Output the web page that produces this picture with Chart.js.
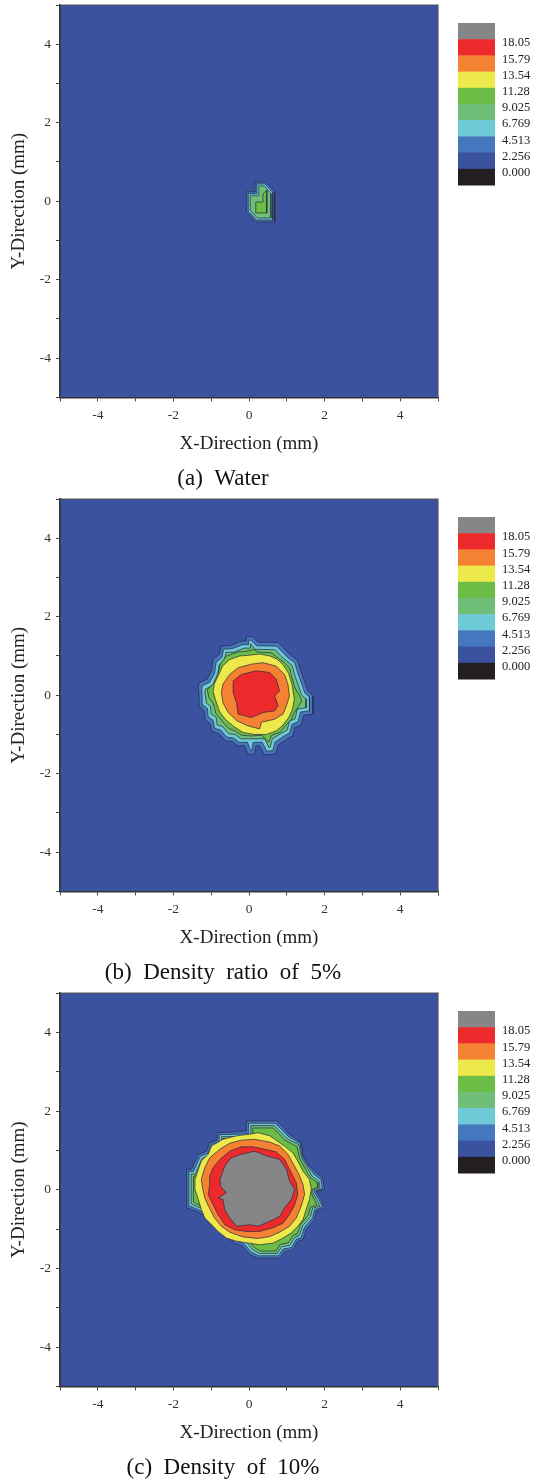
<!DOCTYPE html>
<html>
<head>
<meta charset="utf-8">
<script src="https://cdn.jsdelivr.net/npm/chart.js@4.4.1/dist/chart.umd.min.js"></script>
<style>
  body { margin: 0; background: #fff; }
  .panel { width: 536px; }
  canvas { display: block; }
</style>
</head>
<body>
<div class="panel"><canvas id="chartA" width="536" height="494"></canvas></div>
<div class="panel"><canvas id="chartB" width="536" height="494"></canvas></div>
<div class="panel"><canvas id="chartC" width="536" height="495"></canvas></div>
<script>
// colour bar labels, top to bottom
const levelLabels = ["18.05", "15.79", "13.54", "11.28", "9.025", "6.769", "4.513", "2.256", "0.000"];
// band colours from the lowest band (<0) up to the highest (>18.05)
const bandColors = ["#231F20", "#3A52A0", "#4477BD", "#6DCAD6", "#6FBF79", "#6BBD45", "#EEE94B", "#F58232", "#EC2A2B", "#868689"];
// labelled ticks on both axes (mm)
const axisTicks = [-4, -2, 0, 2, 4];

// contour outlines as [x, y] in mm, outermost (2.256) first

// (a) water
const waterLv1 = [[0.16,0.49],[0.44,0.49],[0.68,0.24],[0.68,-0.53],[0.18,-0.53],[-0.07,-0.27],[-0.07,0.24],[0.16,0.24]];
const waterLv2 = [[0.21,0.44],[0.42,0.44],[0.63,0.22],[0.63,-0.48],[0.20,-0.48],[-0.02,-0.25],[-0.02,0.19],[0.21,0.19]];
const waterLv3 = [[0.26,0.39],[0.40,0.39],[0.58,0.20],[0.58,-0.43],[0.22,-0.43],[0.03,-0.23],[0.03,0.14],[0.26,0.14]];
const waterLv4 = [[0.18,-0.02],[0.37,-0.02],[0.37,0.19],[0.47,0.28],[0.47,-0.30],[0.18,-0.30]];

// (b) density ratio 5%
const ratio5Lv1 = [[-0.07,1.49],[0.09,1.49],[0.24,1.35],[0.77,1.34],[0.97,1.15],[1.10,1.02],[1.28,0.90],[1.38,0.60],[1.48,0.32],[1.56,0.11],[1.69,-0.02],[1.69,-0.48],[1.44,-0.51],[1.38,-0.76],[1.21,-0.82],[1.16,-1.03],[0.99,-1.12],[0.77,-1.27],[0.70,-1.50],[0.41,-1.52],[0.28,-1.29],[0.18,-1.29],[0.15,-1.50],[-0.03,-1.50],[-0.11,-1.29],[-0.30,-1.29],[-0.45,-1.18],[-0.62,-1.16],[-0.80,-0.98],[-0.98,-0.92],[-1.03,-0.72],[-1.16,-0.62],[-1.18,-0.40],[-1.30,-0.30],[-1.32,-0.06],[-1.34,0.19],[-1.32,0.32],[-1.11,0.41],[-0.99,0.62],[-0.95,0.91],[-0.79,1.04],[-0.73,1.25],[-0.47,1.27],[-0.20,1.38],[-0.07,1.38]];
const ratio5Lv2 = [[-0.01,1.40],[0.05,1.40],[0.20,1.26],[0.73,1.25],[0.91,1.07],[1.04,0.95],[1.21,0.83],[1.30,0.54],[1.40,0.27],[1.48,0.05],[1.60,-0.05],[1.60,-0.40],[1.36,-0.43],[1.30,-0.68],[1.14,-0.74],[1.08,-0.96],[0.93,-1.04],[0.69,-1.19],[0.63,-1.41],[0.47,-1.43],[0.35,-1.20],[0.11,-1.20],[0.07,-1.41],[0.04,-1.41],[-0.04,-1.20],[-0.26,-1.20],[-0.41,-1.09],[-0.58,-1.07],[-0.75,-0.89],[-0.91,-0.84],[-0.95,-0.64],[-1.08,-0.55],[-1.10,-0.34],[-1.22,-0.25],[-1.24,-0.04],[-1.25,0.17],[-1.24,0.24],[-1.04,0.33],[-0.91,0.56],[-0.87,0.84],[-0.72,0.96],[-0.67,1.17],[-0.43,1.19],[-0.16,1.29],[-0.01,1.29]];
const ratio5Lv3 = [[0.04,1.31],[0.16,1.17],[0.69,1.16],[0.85,0.99],[0.99,0.88],[1.14,0.76],[1.22,0.48],[1.32,0.21],[1.40,-0.01],[1.51,-0.09],[1.51,-0.32],[1.28,-0.35],[1.22,-0.60],[1.07,-0.66],[1.01,-0.89],[0.87,-0.96],[0.62,-1.11],[0.56,-1.32],[0.53,-1.34],[0.42,-1.11],[0.02,-1.11],[-0.22,-1.11],[-0.37,-1.00],[-0.54,-0.98],[-0.70,-0.80],[-0.84,-0.76],[-0.87,-0.56],[-1.00,-0.48],[-1.02,-0.28],[-1.13,-0.20],[-1.15,-0.02],[-1.16,0.15],[-0.97,0.24],[-0.83,0.50],[-0.79,0.77],[-0.65,0.88],[-0.61,1.09],[-0.39,1.10],[-0.12,1.20],[0.04,1.20]];
const ratio5Lv4 = [[-0.60,1.00],[-0.30,1.10],[-0.05,1.12],[0.12,1.17],[0.25,1.10],[0.60,1.08],[0.78,0.94],[0.92,0.84],[1.07,0.70],[1.14,0.44],[1.22,0.18],[1.32,0.02],[1.40,-0.14],[1.30,-0.30],[1.20,-0.44],[1.12,-0.62],[0.96,-0.78],[0.82,-0.95],[0.60,-1.02],[0.52,-1.20],[0.34,-1.02],[0.05,-1.04],[-0.20,-1.02],[-0.35,-0.92],[-0.55,-0.84],[-0.73,-0.64],[-0.88,-0.46],[-0.94,-0.22],[-1.06,-0.06],[-1.10,0.14],[-0.94,0.30],[-0.82,0.56],[-0.76,0.80]];
const ratio5Lv5 = [[-0.92,0.28],[-0.80,0.53],[-0.70,0.74],[-0.51,0.91],[-0.25,1.00],[0.02,1.02],[0.28,1.05],[0.55,1.00],[0.74,0.92],[0.90,0.78],[1.05,0.55],[1.14,0.26],[1.20,-0.10],[1.15,-0.36],[1.05,-0.57],[0.90,-0.76],[0.72,-0.91],[0.46,-1.00],[0.15,-1.00],[-0.16,-0.95],[-0.40,-0.80],[-0.62,-0.62],[-0.78,-0.42],[-0.88,-0.14],[-0.95,0.10]];
const ratio5Lv6 = [[-0.69,0.28],[-0.51,0.53],[-0.29,0.70],[0.06,0.79],[0.37,0.83],[0.72,0.74],[0.94,0.53],[1.03,0.28],[1.07,-0.02],[0.99,-0.27],[0.90,-0.48],[0.68,-0.61],[0.33,-0.69],[0.28,-0.86],[-0.03,-0.78],[-0.33,-0.65],[-0.55,-0.44],[-0.69,-0.19],[-0.73,0.07]];
const ratio5Lv7 = [[-0.42,0.36],[-0.20,0.53],[0.19,0.62],[0.55,0.58],[0.72,0.41],[0.81,0.11],[0.68,-0.02],[0.77,-0.27],[0.68,-0.40],[0.37,-0.44],[0.06,-0.57],[-0.29,-0.48],[-0.33,-0.19],[-0.42,0.07]];

// (c) density 10%
const dens10Lv1 = [[-0.07,1.75],[0.72,1.75],[0.90,1.58],[1.07,1.41],[1.38,1.20],[1.43,0.86],[1.60,0.60],[1.78,0.43],[1.95,0.30],[2.00,0.01],[1.78,-0.04],[1.91,-0.25],[2.00,-0.46],[1.78,-0.55],[1.73,-0.76],[1.51,-1.02],[1.43,-1.27],[1.29,-1.31],[1.16,-1.53],[0.94,-1.57],[0.81,-1.74],[0.24,-1.74],[0.02,-1.65],[-0.16,-1.44],[-0.38,-1.36],[-0.60,-1.19],[-0.77,-0.97],[-1.04,-0.76],[-1.21,-0.63],[-1.39,-0.55],[-1.65,-0.46],[-1.65,0.52],[-1.52,0.52],[-1.34,0.90],[-1.12,0.98],[-1.04,1.20],[-0.86,1.24],[-0.82,1.45],[-0.33,1.47],[-0.07,1.49]];
const dens10Lv2 = [[-0.01,1.69],[0.69,1.69],[0.86,1.53],[1.03,1.36],[1.35,1.17],[1.41,0.84],[1.57,0.58],[1.73,0.38],[1.90,0.26],[1.94,0.03],[1.72,-0.04],[1.85,-0.25],[1.94,-0.44],[1.73,-0.51],[1.68,-0.72],[1.46,-0.97],[1.38,-1.22],[1.25,-1.26],[1.12,-1.47],[0.90,-1.51],[0.78,-1.68],[0.26,-1.68],[0.06,-1.59],[-0.12,-1.38],[-0.34,-1.30],[-0.56,-1.14],[-0.73,-0.92],[-0.99,-0.71],[-1.17,-0.58],[-1.36,-0.50],[-1.59,-0.41],[-1.59,0.46],[-1.47,0.46],[-1.29,0.85],[-1.08,0.93],[-1.00,1.15],[-0.81,1.19],[-0.77,1.40],[-0.31,1.41],[-0.01,1.43]];
const dens10Lv3 = [[0.05,1.63],[0.66,1.63],[0.82,1.48],[0.99,1.31],[1.32,1.14],[1.39,0.82],[1.54,0.56],[1.68,0.33],[1.85,0.22],[1.88,0.05],[1.66,-0.02],[1.79,-0.25],[1.88,-0.42],[1.68,-0.47],[1.63,-0.68],[1.42,-0.92],[1.33,-1.17],[1.21,-1.21],[1.08,-1.41],[0.86,-1.45],[0.75,-1.62],[0.28,-1.62],[0.10,-1.53],[-0.08,-1.32],[-0.30,-1.24],[-0.52,-1.09],[-0.69,-0.87],[-0.95,-0.66],[-1.12,-0.53],[-1.33,-0.45],[-1.53,-0.36],[-1.53,0.40],[-1.42,0.40],[-1.24,0.80],[-1.04,0.88],[-0.96,1.10],[-0.76,1.14],[-0.72,1.35],[-0.29,1.35],[0.05,1.37]];
const dens10Lv4 = [[0.10,1.57],[0.63,1.57],[0.78,1.43],[0.95,1.26],[1.27,1.09],[1.34,0.79],[1.49,0.53],[1.63,0.30],[1.80,0.18],[1.82,0.06],[1.62,-0.02],[1.73,-0.25],[1.80,-0.40],[1.62,-0.44],[1.57,-0.64],[1.37,-0.88],[1.28,-1.12],[1.17,-1.16],[1.04,-1.35],[0.82,-1.39],[0.72,-1.56],[0.30,-1.56],[0.14,-1.47],[-0.04,-1.27],[-0.26,-1.19],[-0.48,-1.05],[-0.65,-0.83],[-0.91,-0.62],[-1.08,-0.49],[-1.29,-0.41],[-1.47,-0.31],[-1.47,0.34],[-1.37,0.36],[-1.19,0.76],[-1.00,0.84],[-0.92,1.05],[-0.72,1.10],[-0.70,1.30],[-0.30,1.30],[0.10,1.32]];
const dens10Lv5 = [[-1.43,0.26],[-1.34,0.52],[-1.26,0.73],[-1.08,0.90],[-0.99,1.11],[-0.69,1.28],[-0.33,1.37],[0.02,1.41],[0.24,1.45],[0.55,1.37],[0.94,1.11],[1.16,0.94],[1.29,0.73],[1.43,0.47],[1.60,0.26],[1.65,0.01],[1.60,-0.25],[1.51,-0.51],[1.43,-0.76],[1.29,-0.93],[1.12,-1.10],[0.90,-1.23],[0.63,-1.36],[0.28,-1.40],[0.02,-1.36],[-0.33,-1.31],[-0.60,-1.23],[-0.82,-1.06],[-0.99,-0.89],[-1.17,-0.72],[-1.26,-0.51],[-1.34,-0.25],[-1.43,0.01]];
const dens10Lv6 = [[-1.26,0.26],[-1.17,0.56],[-1.04,0.81],[-0.77,1.03],[-0.51,1.18],[-0.20,1.26],[0.15,1.28],[0.55,1.21],[0.81,1.11],[1.03,0.90],[1.18,0.64],[1.32,0.39],[1.43,0.13],[1.47,-0.12],[1.38,-0.42],[1.25,-0.72],[1.07,-0.93],[0.81,-1.08],[0.55,-1.19],[0.24,-1.24],[-0.16,-1.20],[-0.51,-1.08],[-0.73,-0.93],[-0.91,-0.72],[-1.05,-0.46],[-1.17,-0.21],[-1.23,0.05]];
const dens10Lv7 = [[-1.04,0.35],[-0.95,0.56],[-0.77,0.77],[-0.51,0.98],[-0.20,1.09],[0.11,1.09],[0.41,1.03],[0.72,0.96],[0.94,0.77],[1.07,0.52],[1.25,0.18],[1.29,-0.12],[1.21,-0.38],[1.07,-0.63],[0.90,-0.85],[0.63,-0.97],[0.28,-1.06],[-0.07,-1.06],[-0.38,-1.02],[-0.64,-0.89],[-0.82,-0.63],[-0.95,-0.38],[-1.08,-0.12],[-1.04,0.13]];
const dens10Lv8 = [[-0.77,0.26],[-0.64,0.60],[-0.47,0.81],[-0.20,0.90],[0.15,0.98],[0.46,0.86],[0.81,0.77],[0.99,0.52],[1.07,0.22],[1.21,0.01],[1.12,-0.25],[0.94,-0.46],[0.81,-0.68],[0.55,-0.80],[0.24,-0.93],[0.02,-0.89],[-0.33,-0.93],[-0.51,-0.72],[-0.64,-0.51],[-0.69,-0.25],[-0.82,-0.21],[-0.60,-0.08],[-0.75,0.08]];

const serif = "'Liberation Serif', 'Times New Roman', serif";

const plotDecor = {
  id: "plotDecor",
  beforeDraw(chart) {
    const {ctx, chartArea: a} = chart;
    ctx.save();
    ctx.fillStyle = bandColors[1];
    ctx.fillRect(a.left, a.top, a.width, a.height);
    ctx.restore();
  },
  afterDraw(chart) {
    const {ctx, chartArea: a} = chart;
    ctx.save();
    // top and right frame
    ctx.strokeStyle = "#555";
    ctx.lineWidth = 1.2;
    ctx.beginPath();
    ctx.moveTo(a.left, a.top);
    ctx.lineTo(a.right, a.top);
    ctx.lineTo(a.right, a.bottom);
    ctx.stroke();
    // colour bar
    const x0 = a.right + 20, top = a.top + 18, w = 37, h = 16.2;
    const n = bandColors.length;
    for (let i = 0; i < n; i++) {
      ctx.fillStyle = bandColors[n - 1 - i];
      ctx.fillRect(x0, top + i * h, w, h + 0.5);
    }
    ctx.font = "12.5px " + serif;
    ctx.fillStyle = "#222";
    ctx.textBaseline = "middle";
    ctx.textAlign = "left";
    levelLabels.forEach((t, i) => ctx.fillText(t, x0 + 44, top + (i + 1) * h + 4));
    ctx.restore();
  }
};

function axis(title, isY) {
  return {
    type: "linear",
    min: -5,
    max: 5,
    ticks: {
      stepSize: 1,
      autoSkip: false,
      maxRotation: 0,
      padding: isY ? 5 : 6,
      color: "#333",
      font: {family: serif, size: 13.5},
      callback: v => axisTicks.includes(v) ? String(v) : ""
    },
    grid: {drawOnChartArea: false, drawTicks: true, tickLength: 4, color: "#444", tickWidth: 1},
    border: {display: true, color: "#333", width: 1.6},
    title: {display: true, text: title, color: "#222", font: {family: serif, size: 19}, padding: 0},
    afterFit: s => {
      if (isY) { s.width = 52; s.paddingTop = 0; s.paddingBottom = 0; }
      else { s.height = 58; s.paddingLeft = 0; s.paddingRight = 0; }
    }
  };
}

function makeChart(id, contours, caption) {
  const datasets = contours.map((pts, i) => ({
    data: pts.concat([pts[0]]).map(p => ({x: p[0], y: p[1]})),
    showLine: true,
    fill: "shape",
    backgroundColor: bandColors[i + 2],
    borderColor: "rgba(40,42,62,0.9)",
    borderWidth: 0.8,
    pointRadius: 0,
    tension: 0,
    order: contours.length - i
  }));
  new Chart(document.getElementById(id), {
    type: "scatter",
    data: {datasets},
    options: {
      responsive: false,
      animation: false,
      layout: {padding: {left: 8, right: 98, top: 5, bottom: 0}},
      scales: {
        x: axis("X-Direction (mm)", false),
        y: axis("Y-Direction (mm)", true)
      },
      plugins: {
        legend: {display: false},
        tooltip: {enabled: false},
        title: {
          display: true,
          position: "bottom",
          text: caption,
          color: "#111",
          font: {family: serif, size: 23, weight: "normal"},
          padding: {top: 10, bottom: 1}
        }
      }
    },
    plugins: [plotDecor]
  });
}

makeChart("chartA", [waterLv1, waterLv2, waterLv3, waterLv4], "(a)  Water");
makeChart("chartB", [ratio5Lv1, ratio5Lv2, ratio5Lv3, ratio5Lv4, ratio5Lv5, ratio5Lv6, ratio5Lv7], "(b)  Density  ratio  of  5%");
makeChart("chartC", [dens10Lv1, dens10Lv2, dens10Lv3, dens10Lv4, dens10Lv5, dens10Lv6, dens10Lv7, dens10Lv8], "(c)  Density  of  10%");
</script>
</body>
</html>
